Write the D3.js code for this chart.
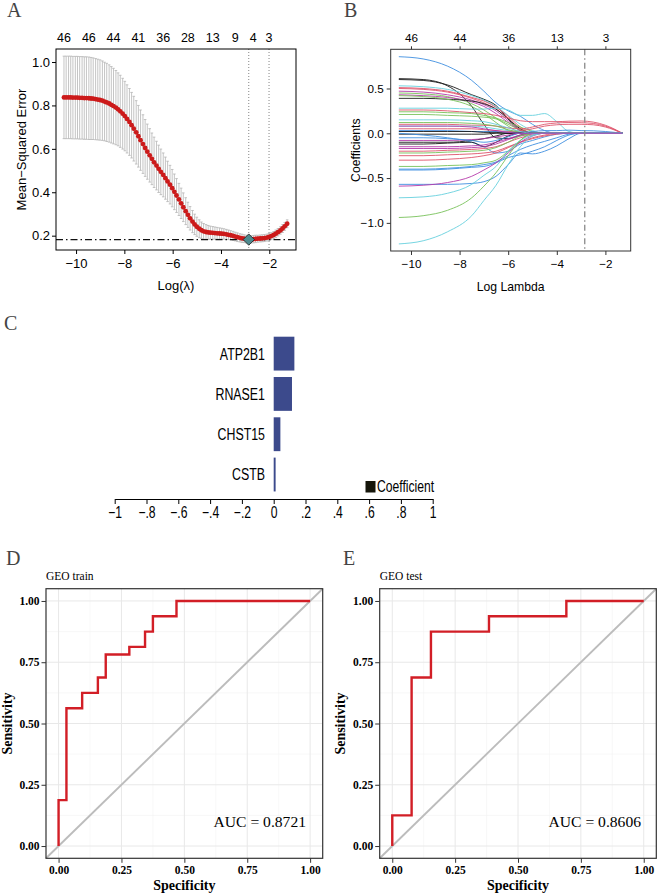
<!DOCTYPE html>
<html><head><meta charset="utf-8">
<script src="https://cdn.jsdelivr.net/npm/d3@7"></script>
<style>body{margin:0;background:#fff} svg{display:block}</style>
</head><body><svg id="c" width="658" height="895"></svg>
<script>
// ---------------- DATA ----------------
// Panel A: cross-validation curve (log lambda, mean-squared error, standard error)
const logLambda = [-10.50,-10.41,-10.31,-10.22,-10.13,-10.03,-9.94,-9.85,-9.75,-9.66,-9.57,-9.47,-9.38,-9.29,-9.19,-9.10,-9.01,-8.91,-8.82,-8.73,
-8.63,-8.54,-8.45,-8.35,-8.26,-8.17,-8.07,-7.98,-7.89,-7.79,-7.70,-7.61,-7.51,-7.42,-7.33,-7.23,-7.14,-7.05,-6.95,-6.86,
-6.77,-6.67,-6.58,-6.49,-6.39,-6.30,-6.21,-6.11,-6.02,-5.93,-5.84,-5.74,-5.65,-5.56,-5.46,-5.37,-5.28,-5.18,-5.09,-5.00,
-4.90,-4.81,-4.72,-4.62,-4.53,-4.44,-4.34,-4.25,-4.16,-4.06,-3.97,-3.88,-3.78,-3.69,-3.60,-3.50,-3.41,-3.32,-3.22,-3.13,
-3.04,-2.94,-2.85,-2.76,-2.66,-2.57,-2.48,-2.38,-2.29,-2.20,-2.10,-2.01,-1.92,-1.82,-1.73,-1.64,-1.54,-1.45,-1.36,-1.26];
const mse = [0.837,0.837,0.837,0.837,0.836,0.836,0.836,0.835,0.835,0.834,0.834,0.833,0.832,0.831,0.829,0.827,0.825,0.822,0.818,0.814,
0.809,0.803,0.797,0.790,0.782,0.773,0.762,0.751,0.738,0.724,0.709,0.693,0.676,0.658,0.640,0.622,0.604,0.587,0.570,0.554,
0.538,0.523,0.508,0.494,0.480,0.465,0.450,0.435,0.419,0.402,0.385,0.367,0.349,0.331,0.313,0.296,0.280,0.265,0.252,0.241,
0.232,0.225,0.220,0.217,0.215,0.214,0.213,0.212,0.211,0.210,0.209,0.208,0.206,0.204,0.202,0.199,0.196,0.193,0.190,0.188,
0.186,0.184,0.182,0.183,0.184,0.185,0.186,0.187,0.188,0.189,0.191,0.194,0.198,0.203,0.209,0.216,0.224,0.233,0.243,0.255];
const mseSd = [0.190,0.190,0.190,0.190,0.190,0.190,0.190,0.190,0.190,0.190,0.190,0.190,0.189,0.188,0.187,0.186,0.185,0.183,0.181,0.180,
0.178,0.176,0.174,0.171,0.168,0.166,0.163,0.160,0.157,0.154,0.151,0.149,0.146,0.142,0.139,0.135,0.131,0.127,0.123,0.119,
0.116,0.112,0.109,0.105,0.101,0.097,0.093,0.089,0.086,0.082,0.078,0.074,0.070,0.066,0.062,0.058,0.054,0.051,0.047,0.044,
0.041,0.038,0.036,0.034,0.032,0.030,0.029,0.028,0.027,0.026,0.025,0.024,0.023,0.022,0.021,0.021,0.020,0.020,0.019,0.019,
0.018,0.018,0.018,0.017,0.017,0.017,0.016,0.016,0.016,0.016,0.016,0.016,0.016,0.016,0.017,0.017,0.017,0.018,0.018,0.018];
const lambdaMin = -2.85, lambda1se = -2.01;
const aTopAt = [-10.50,-9.47,-8.45,-7.42,-6.39,-5.37,-4.34,-3.41,-2.66,-2.01];
const aTopLabels = ["46","46","44","41","36","28","13","9","4","3"];
const aYTicks = [0.2,0.4,0.6,0.8,1.0];
const aXTicks = [-10,-8,-6,-4,-2];

// Panel B: coefficient paths (values at knots of log lambda)
const coefKnots = [-10.5,-9.5,-8.5,-7.5,-7,-6.5,-6,-5.5,-5,-4.5,-4,-3.5,-3,-2.5,-2,-1.3];
const coefGroup = [3,0,0,4,1,1,5,2,5,0,2,4,1,2,2,1,4,1,3,2,0,0,3,0,0,5,5,1,2,1,1,2,3,3,3,5,4,2,4,5,3,4,5];
const coefValues = [
[0.855,0.83,0.75,0.59,0.47,0.34,0.25,0.19,0.10,0.03,0,0,0,0,0,0],
[0.61,0.60,0.53,0.30,0.10,-0.05,-0.06,-0.02,0,0,0,0,0,0,0,0],
[0.60,0.59,0.54,0.43,0.38,0.31,0.16,0.03,0,0,0,0,0,0,0,0],
[0.53,0.52,0.49,0.42,0.37,0.30,0.20,0.10,0.03,0,0,0,0,0,0,0],
[0.51,0.50,0.47,0.40,0.36,0.29,0.19,0.07,0,0,0,0,0,0,0,0],
[0.50,0.49,0.46,0.39,0.34,0.27,0.17,0.05,0,0,0,0,0,0,0,0],
[0.47,0.46,0.43,0.37,0.32,0.25,0.14,0.04,0,0,0,0,0,0,0,0],
[0.45,0.44,0.41,0.33,0.26,0.17,0.08,0.01,0,0,0,0,0,0,0,0],
[0.43,0.42,0.40,0.35,0.30,0.22,0.12,0.03,0,0,0,0,0,0,0,0],
[0.39,0.39,0.38,0.36,0.33,0.27,0.16,0.05,0,0,0,0,0,0,0,0],
[0.42,0.41,0.38,0.30,0.22,0.12,0.03,0,0,0,0,0,0,0,0,0],
[0.28,0.28,0.28,0.27,0.27,0.28,0.26,0.20,0.20,0.22,0.13,0.02,0,0,0,0],
[0.26,0.26,0.25,0.23,0.22,0.20,0.17,0.14,0.13,0.13,0.13,0.135,0.137,0.125,0.09,0],
[0.24,0.24,0.23,0.22,0.20,0.17,0.12,0.07,0.02,0,0,0,0,0,0,0],
[0.21,0.21,0.20,0.19,0.18,0.16,0.10,0.04,0,0,0,0,0,0,0,0],
[0.10,0.10,0.10,0.09,0.09,0.08,0.06,0.05,0.07,0.10,0.115,0.12,0.118,0.11,0.08,0],
[0.08,0.08,0.08,0.08,0.07,0.05,0.03,0.01,0,0,0,0,0,0,0,0],
[0.05,0.05,0.05,0.05,0.04,0.03,0.02,0.03,0.05,0.08,0.095,0.10,0.10,0.095,0.07,0],
[0.03,0.03,0.03,0.02,0.02,0.02,0.01,0.01,0.02,0.03,0.03,0.035,0.03,0.028,0.02,0],
[0.12,0.12,0.12,0.11,0.10,0.08,0.04,0.01,0,0,0,0,0,0,0,0],
[0.02,0.02,0.02,0.02,0.01,0.01,0,0,0,0,0,0,0,0,0,0],
[-0.01,-0.01,-0.01,-0.01,-0.01,0,0,0,0,0,0,0,0,0,0,0],
[0,-0.02,-0.05,-0.10,-0.15,-0.22,-0.20,-0.12,-0.08,-0.04,-0.01,0,0,0,0,0],
[-0.10,-0.10,-0.10,-0.08,-0.06,-0.03,0,0,0,0,0,0,0,0,0,0],
[-0.12,-0.12,-0.11,-0.10,-0.15,-0.10,-0.03,0,0,0,0,0,0,0,0,0],
[-0.15,-0.15,-0.15,-0.14,-0.13,-0.10,-0.06,-0.02,0,0,0,0,0,0,0,0],
[-0.17,-0.17,-0.17,-0.16,-0.15,-0.12,-0.07,-0.03,-0.01,0,0,0,0,0,0,0],
[-0.20,-0.20,-0.19,-0.18,-0.17,-0.15,-0.10,-0.05,-0.02,0,0,0,0,0,0,0],
[-0.22,-0.22,-0.21,-0.20,-0.19,-0.16,-0.10,-0.03,0,0,0,0,0,0,0,0],
[-0.25,-0.25,-0.24,-0.23,-0.22,-0.20,-0.15,-0.10,-0.06,-0.03,-0.01,0,0,0,0,0],
[-0.30,-0.30,-0.29,-0.27,-0.25,-0.22,-0.16,-0.10,-0.05,-0.02,0,0,0,0,0,0],
[-0.37,-0.37,-0.36,-0.35,-0.33,-0.30,-0.20,-0.08,0,0,0,0,0,0,0,0],
[-0.40,-0.40,-0.39,-0.37,-0.35,-0.32,-0.25,-0.18,-0.13,-0.09,-0.05,-0.01,0,0,0,0],
[-0.41,-0.41,-0.40,-0.38,-0.37,-0.33,-0.27,-0.24,-0.20,-0.15,-0.08,-0.02,0,0,0,0],
[-0.57,-0.57,-0.57,-0.56,-0.54,-0.48,-0.35,-0.22,-0.23,-0.20,-0.14,-0.06,0,0,0,0],
[-0.59,-0.58,-0.55,-0.48,-0.41,-0.33,-0.22,-0.10,-0.03,0,0,0,0,0,0,0],
[-0.72,-0.71,-0.67,-0.57,-0.47,-0.37,-0.20,-0.08,-0.02,0,0,0,0,0,0,0],
[-0.94,-0.92,-0.86,-0.72,-0.59,-0.44,-0.25,-0.08,0,0,0,0,0,0,0,0],
[-1.235,-1.20,-1.10,-0.92,-0.75,-0.58,-0.35,-0.15,-0.03,0,0,0,0,0,0,0],
[-0.08,-0.08,-0.08,-0.07,-0.06,-0.04,-0.02,0,0,0,0,0,0,0,0,0],
[-0.05,-0.05,-0.06,-0.08,-0.10,-0.08,-0.04,0,0,0,0,0,0,0,0,0],
[0.15,0.15,0.15,0.14,0.13,0.10,0.06,0.02,0,0,0,0,0,0,0,0],
[0.08,0.08,0.08,0.07,0.05,0.03,0.01,0,0,0,0,0,0,0,0,0]];
const bTopAt = [-10,-8,-6,-4,-2];
const bTopLabels = ["46","44","36","13","3"];
const bYTicks = [-1.0,-0.5,0.0,0.5];
const bXTicks = [-10,-8,-6,-4,-2];

// Panel C: selected genes and coefficients
const genes = ["ATP2B1","RNASE1","CHST15","CSTB"];
const geneCoef = [0.13,0.115,0.042,0.012];
const cTicks = [-1,-0.8,-0.6,-0.4,-0.2,0,0.2,0.4,0.6,0.8,1];
const cTickLabels = ["\u22121","\u2212.8","\u2212.6","\u2212.4","\u2212.2","0",".2",".4",".6",".8","1"];

// Panels D, E: ROC curves (1 - specificity, sensitivity)
const rocTrainFPR = [0,0,0.03125,0.03125,0.09375,0.09375,0.15625,0.15625,0.1875,0.1875,0.28125,0.28125,0.34375,0.34375,0.375,0.375,0.46875,0.46875,1];
const rocTrainTPR = [0,0.1875,0.1875,0.5625,0.5625,0.625,0.625,0.6875,0.6875,0.78125,0.78125,0.8125,0.8125,0.875,0.875,0.9375,0.9375,1,1];
const rocTestFPR = [0,0,0.0769,0.0769,0.1538,0.1538,0.3846,0.3846,0.6923,0.6923,1];
const rocTestTPR = [0,0.125,0.125,0.6875,0.6875,0.875,0.875,0.9375,0.9375,1,1];
const rocTicks = [0,0.25,0.5,0.75,1];
const rocTickLabels = ["0.00","0.25","0.50","0.75","1.00"];
const aucTrain = "AUC = 0.8721", aucTest = "AUC = 0.8606";

// ---------------- DRAWING ----------------
const svg = d3.select('#c');
const sans = "'Liberation Sans', Arial, Helvetica, sans-serif";
const serif = "'Liberation Serif', 'Times New Roman', serif";
const squeeze = 0.76; // condensed look for panel C text

// Panel letters
[["A",7,17],["B",344,17],["C",4,330],["D",6,565],["E",343,565]].forEach(([t,x,y]) => {
  svg.append('text').attr('x',x).attr('y',y).text(t)
    .attr('font-family',serif).attr('font-size',20).attr('fill','#444');
});

function styleAxis(g, font, size, color) {
  g.select('.domain').remove();
  g.selectAll('.tick line').attr('stroke', color);
  g.selectAll('.tick text').attr('font-family', font).attr('font-size', size).attr('fill', '#000');
}

// ---------- Panel A ----------
(function(){
  const P = {l:56, r:296, t:49, b:250};
  const x = d3.scaleLinear().domain([-10.83,-0.894]).range([P.l,P.r]);
  const y = d3.scaleLinear().domain([0.134,1.06]).range([P.b,P.t]);
  const g = svg.append('g');
  [lambdaMin, lambda1se].forEach(v => g.append('line')
    .attr('x1',x(v)).attr('x2',x(v)).attr('y1',P.t).attr('y2',P.b)
    .attr('stroke','#666').attr('stroke-width',0.8).attr('stroke-dasharray','1,2'));
  const eb = g.append('g').attr('stroke','#b5b5b5').attr('stroke-width',0.8);
  logLambda.forEach((L,i) => {
    const xx = x(L), yu = y(mse[i]+mseSd[i]), yl = y(mse[i]-mseSd[i]);
    eb.append('line').attr('x1',xx).attr('x2',xx).attr('y1',yu).attr('y2',yl);
    eb.append('line').attr('x1',xx-1.3).attr('x2',xx+1.3).attr('y1',yu).attr('y2',yu);
    eb.append('line').attr('x1',xx-1.3).attr('x2',xx+1.3).attr('y1',yl).attr('y2',yl);
  });
  const iMin = d3.minIndex(mse);
  g.append('line').attr('x1',P.l).attr('x2',P.r).attr('y1',y(mse[iMin])).attr('y2',y(mse[iMin]))
    .attr('stroke','#111').attr('stroke-width',1.4).attr('stroke-dasharray','7,3,1.5,3');
  g.append('g').selectAll('circle').data(logLambda).join('circle')
    .attr('cx',d=>x(d)).attr('cy',(d,i)=>y(mse[i])).attr('r',2.4).attr('fill','#cc1a1a');
  g.append('rect').attr('x',-4).attr('y',-4).attr('width',8).attr('height',8)
    .attr('transform',`translate(${x(logLambda[iMin])},${y(mse[iMin])}) rotate(45)`)
    .attr('fill','#4e8b8f').attr('stroke','#222').attr('stroke-width',0.8);
  g.append('rect').attr('x',P.l).attr('y',P.t).attr('width',P.r-P.l).attr('height',P.b-P.t)
    .attr('fill','none').attr('stroke','#000').attr('stroke-width',1);
  g.append('g').attr('transform',`translate(${P.l},0)`)
    .call(d3.axisLeft(y).tickValues(aYTicks).tickFormat(d3.format('.1f')).tickSize(4).tickPadding(2))
    .call(a=>styleAxis(a,sans,13,'#000'));
  g.append('g').attr('transform',`translate(0,${P.b})`)
    .call(d3.axisBottom(x).tickValues(aXTicks).tickFormat(d=>d<0?'\u2212'+(-d):d).tickSize(4).tickPadding(5))
    .call(a=>styleAxis(a,sans,13,'#000'));
  g.append('g').selectAll('text').data(aTopAt).join('text')
    .attr('x',d=>x(d)).attr('y',41.5).attr('text-anchor','middle').text((d,i)=>aTopLabels[i])
    .attr('font-family',sans).attr('font-size',12.5);
  g.append('text').attr('x',(P.l+P.r)/2).attr('y',290).attr('text-anchor','middle')
    .attr('font-family',sans).attr('font-size',13).text('Log(\u03bb)');
  g.append('text').attr('transform',`translate(26,${(P.t+P.b)/2}) rotate(-90)`).attr('text-anchor','middle')
    .attr('font-family',sans).attr('font-size',13).text('Mean\u2212Squared Error');
})();

// ---------- Panel B ----------
(function(){
  const P = {l:390.7, r:630.7, t:49.3, b:251};
  const x = d3.scaleLinear().domain([-10.835,-0.959]).range([P.l,P.r]);
  const y = d3.scaleLinear().domain([-1.314,0.9375]).range([P.b,P.t]);
  const pal = ['#1a1a1a','#DF536B','#78C25A','#3F8FE0','#66D0DE','#B53AAA'];
  const g = svg.append('g');
  svg.append('clipPath').attr('id','clipB').append('rect')
    .attr('x',P.l).attr('y',P.t).attr('width',P.r-P.l).attr('height',P.b-P.t);
  const line = d3.line().x((d,i)=>x(coefKnots[i])).y(d=>y(d)).curve(d3.curveMonotoneX);
  g.append('g').attr('clip-path','url(#clipB)').selectAll('path').data(coefValues).join('path')
    .attr('d',line).attr('fill','none').attr('stroke',(d,i)=>pal[coefGroup[i]]).attr('stroke-width',0.9);
  g.append('line').attr('x1',x(lambdaMin)).attr('x2',x(lambdaMin)).attr('y1',P.t).attr('y2',P.b)
    .attr('stroke','#8a8a8a').attr('stroke-width',1.3).attr('stroke-dasharray','6,3,1.5,3');
  g.append('rect').attr('x',P.l).attr('y',P.t).attr('width',P.r-P.l).attr('height',P.b-P.t)
    .attr('fill','none').attr('stroke','#333').attr('stroke-width',1);
  g.append('g').attr('transform',`translate(${P.l},0)`)
    .call(d3.axisLeft(y).tickValues(bYTicks).tickFormat(d=>(d<0?'\u2212':'')+Math.abs(d).toFixed(1)).tickSize(4).tickPadding(3))
    .call(a=>styleAxis(a,sans,11.7,'#333'));
  g.append('g').attr('transform',`translate(0,${P.b})`)
    .call(d3.axisBottom(x).tickValues(bXTicks).tickFormat(d=>'\u2212'+(-d)).tickSize(4).tickPadding(5))
    .call(a=>styleAxis(a,sans,11.7,'#333'));
  g.append('g').attr('transform',`translate(0,${P.t})`)
    .call(d3.axisTop(x).tickValues(bTopAt).tickFormat((d,i)=>bTopLabels[i]).tickSize(3).tickPadding(4))
    .call(a=>styleAxis(a,sans,11.7,'#333'));
  g.append('text').attr('x',(P.l+P.r)/2).attr('y',291).attr('text-anchor','middle')
    .attr('font-family',sans).attr('font-size',12.2).text('Log Lambda');
  g.append('text').attr('transform',`translate(360,${(P.t+P.b)/2}) rotate(-90)`).attr('text-anchor','middle')
    .attr('font-family',sans).attr('font-size',12.2).text('Coefficients');
})();

// ---------- Panel C ----------
(function(){
  const x = d3.scaleLinear().domain([-1,1]).range([114.7,432.7]);
  const y = d3.scaleBand().domain(genes).range([336.7,491.45]).paddingInner(0.16).paddingOuter(0);
  const g = svg.append('g');
  g.selectAll('rect.bar').data(genes).join('rect').attr('class','bar')
    .attr('x',x(0)).attr('y',d=>y(d)).attr('height',y.bandwidth())
    .attr('width',(d,i)=>x(geneCoef[i])-x(0)).attr('fill','#3c4a8c');
  g.selectAll('text.lab').data(genes).join('text').attr('class','lab')
    .attr('transform',d=>`translate(265,${y(d)+y.bandwidth()/2}) scale(${squeeze},1)`)
    .attr('dy','0.36em').attr('text-anchor','end')
    .attr('font-family',sans).attr('font-size',16.3).text(d=>d);
  const ax = g.append('g').attr('transform','translate(0,499)')
    .call(d3.axisBottom(x).tickValues(cTicks).tickFormat((d,i)=>cTickLabels[i]).tickSize(5).tickSizeOuter(0).tickPadding(3));
  ax.select('.domain').attr('stroke','#000');
  ax.selectAll('.tick line').attr('stroke','#000');
  ax.selectAll('.tick text').attr('font-family',sans).attr('font-size',16).attr('fill','#000')
    .attr('transform',`scale(${squeeze},1)`);
  g.append('rect').attr('x',365.5).attr('y',481).attr('width',10).attr('height',11.5).attr('fill','#15150a');
  g.append('text').attr('transform',`translate(377,492) scale(${squeeze},1)`)
    .attr('font-family',sans).attr('font-size',16).text('Coefficient');
})();

// ---------- Panels D, E ----------
function rocPanel(P, x0, fpr, tpr, title, auc, aucRight) {
  const x = d3.scaleLinear().domain([-0.05,1.05]).range([P.l,P.r]);
  const y = d3.scaleLinear().domain([-0.05,1.05]).range([P.b,P.t]);
  const g = svg.append('g');
  const minor = [0.125,0.375,0.625,0.875];
  const grid = g.append('g');
  minor.forEach(v => {
    grid.append('line').attr('x1',x(v)).attr('x2',x(v)).attr('y1',P.t).attr('y2',P.b).attr('stroke','#f3f3f3').attr('stroke-width',0.6);
    grid.append('line').attr('y1',y(v)).attr('y2',y(v)).attr('x1',P.l).attr('x2',P.r).attr('stroke','#f3f3f3').attr('stroke-width',0.6);
  });
  rocTicks.forEach(v => {
    grid.append('line').attr('x1',x(v)).attr('x2',x(v)).attr('y1',P.t).attr('y2',P.b).attr('stroke','#e8e8e8').attr('stroke-width',1);
    grid.append('line').attr('y1',y(v)).attr('y2',y(v)).attr('x1',P.l).attr('x2',P.r).attr('stroke','#e8e8e8').attr('stroke-width',1);
  });
  g.append('line').attr('x1',x(-0.05)).attr('y1',y(-0.05)).attr('x2',x(1.05)).attr('y2',y(1.05))
    .attr('stroke','#bcbcbc').attr('stroke-width',1.9);
  const pts = fpr.map((f,i)=>[f,tpr[i]]);
  g.append('path').attr('d',d3.line().x(d=>x(d[0])).y(d=>y(d[1]))(pts))
    .attr('fill','none').attr('stroke','#d21e26').attr('stroke-width',2.4).attr('stroke-linejoin','miter');
  g.append('rect').attr('x',P.l).attr('y',P.t).attr('width',P.r-P.l).attr('height',P.b-P.t)
    .attr('fill','none').attr('stroke','#333').attr('stroke-width',1.2);
  g.append('g').attr('transform',`translate(${P.l},0)`)
    .call(d3.axisLeft(y).tickValues(rocTicks).tickFormat((d,i)=>rocTickLabels[i]).tickSize(4.5).tickPadding(2))
    .call(a=>{styleAxis(a,serif,11.5,'#333'); a.selectAll('.tick text').attr('font-weight','bold');});
  g.append('g').attr('transform',`translate(0,${P.b})`)
    .call(d3.axisBottom(x).tickValues(rocTicks).tickFormat((d,i)=>rocTickLabels[i]).tickSize(4.5).tickPadding(3))
    .call(a=>{styleAxis(a,serif,11.5,'#333'); a.selectAll('.tick text').attr('font-weight','bold');});
  g.append('text').attr('x',(P.l+P.r)/2).attr('y',890).attr('text-anchor','middle')
    .attr('font-family',serif).attr('font-weight','bold').attr('font-size',14).text('Specificity');
  g.append('text').attr('transform',`translate(${x0},${(P.t+P.b)/2}) rotate(-90)`).attr('text-anchor','middle')
    .attr('font-family',serif).attr('font-weight','bold').attr('font-size',14).text('Sensitivity');
  g.append('text').attr('x',P.l).attr('y',580).attr('font-family',serif).attr('font-size',11.5).text(title);
  g.append('text').attr('x',aucRight).attr('y',y(0.1)+5.5).attr('text-anchor','end')
    .attr('font-family',serif).attr('font-size',15.6).text(auc);
}
rocPanel({l:46, r:322.7, t:588.7, b:858.3}, 12, rocTrainFPR, rocTrainTPR, 'GEO train', aucTrain, 306);
rocPanel({l:379.7, r:656.3, t:588.7, b:858.3}, 345, rocTestFPR, rocTestTPR, 'GEO test', aucTest, 641);
</script></body></html>
